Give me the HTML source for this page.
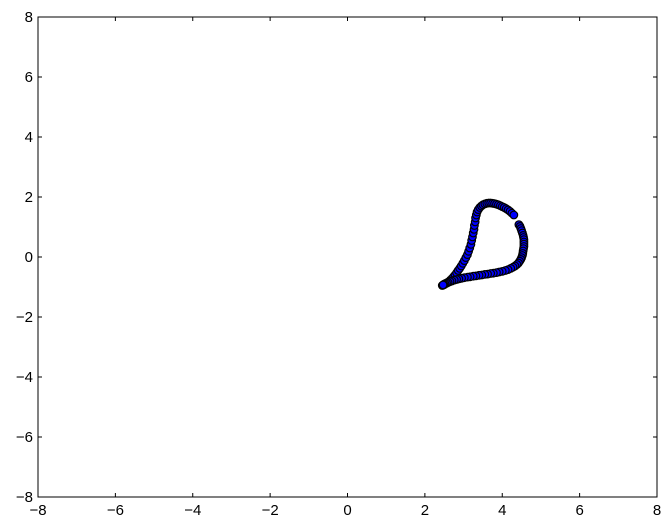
<!DOCTYPE html>
<html><head><meta charset="utf-8"><style>
html,body{margin:0;padding:0;background:#fff;}
svg{display:block;font-family:"Liberation Sans","DejaVu Sans",sans-serif;}
</style></head><body>
<svg id="chart" width="671" height="528"></svg>
<script>
const xTicks=[-8,-6,-4,-2,0,2,4,6,8];
const yTicks=[-8,-6,-4,-2,0,2,4,6,8];
const xs=[2.45,2.47,2.5,2.52,2.55,2.58,2.62,2.66,2.7,2.74,2.78,2.82,2.86,2.9,2.94,2.98,3.02,3.06,3.1,3.13,3.16,3.19,3.21,3.23,3.25,3.27,3.28,3.3,3.31,3.33,3.35,3.38,3.42,3.46,3.5,3.55,3.6,3.65,3.7,3.75,3.8,3.85,3.9,3.95,4.0,4.05,4.1,4.15,4.2,4.25,4.3,
4.43,4.46,4.48,4.5,4.52,4.54,4.55,4.56,4.56,4.56,4.56,4.55,4.54,4.53,4.52,4.5,4.48,4.45,4.42,4.38,4.33,4.28,4.22,4.15,4.08,4.0,3.92,3.85,3.77,3.7,3.62,3.55,3.47,3.4,3.32,3.25,3.17,3.1,3.02,2.95,2.88,2.82,2.76,2.7,2.65,2.6,2.56,2.52,2.49,2.47];
const ys=[-0.95,-0.94,-0.92,-0.9,-0.88,-0.85,-0.82,-0.77,-0.72,-0.66,-0.6,-0.53,-0.45,-0.38,-0.3,-0.21,-0.12,-0.02,0.08,0.19,0.3,0.42,0.55,0.67,0.8,0.92,1.05,1.17,1.3,1.4,1.5,1.58,1.65,1.7,1.74,1.77,1.79,1.8,1.8,1.79,1.78,1.76,1.74,1.71,1.68,1.65,1.61,1.57,1.52,1.46,1.4,
1.08,1.02,0.95,0.88,0.8,0.72,0.65,0.58,0.5,0.43,0.35,0.28,0.2,0.12,0.05,-0.02,-0.08,-0.14,-0.2,-0.25,-0.3,-0.34,-0.38,-0.42,-0.45,-0.48,-0.5,-0.52,-0.54,-0.55,-0.57,-0.58,-0.6,-0.61,-0.63,-0.64,-0.66,-0.67,-0.69,-0.71,-0.73,-0.75,-0.77,-0.8,-0.82,-0.85,-0.87,-0.89,-0.91,-0.93,-0.94];
const L=38,R=657,T=17,B=497;
const sx=v=>L+(v+8)/16*(R-L);
const sy=v=>B-(v+8)/16*(B-T);
const NS="http://www.w3.org/2000/svg";
const svg=document.getElementById('chart');
function mk(tag,attrs){const e=document.createElementNS(NS,tag);for(const k in attrs)e.setAttribute(k,attrs[k]);svg.appendChild(e);return e;}
const fr=mk('rect',{x:L,y:T,width:R-L,height:B-T,fill:'#fff',stroke:'#000','stroke-width':1});


for(let i=0;i<xs.length;i++){
  const c=mk('circle',{cx:sx(xs[i]),cy:sy(ys[i]),r:3.8,fill:'#0000ff',stroke:'#000','stroke-width':1.2});
  
  
}
const fmt=v=>v<0?'\u2212'+Math.abs(v):''+v;
xTicks.forEach(v=>{
  const x=sx(v);
  mk('line',{x1:x,y1:B,x2:x,y2:B-4,stroke:'#000'});
  mk('line',{x1:x,y1:T,x2:x,y2:T+4,stroke:'#000'});
  const t=mk('text',{x:x,y:B+18,'text-anchor':'middle','font-size':15});
  t.textContent=fmt(v);
  
  
});
yTicks.forEach(v=>{
  const y=sy(v);
  mk('line',{x1:L,y1:y,x2:L+4,y2:y,stroke:'#000'});
  mk('line',{x1:R,y1:y,x2:R-4,y2:y,stroke:'#000'});
  const t=mk('text',{x:L-5,y:y+5,'text-anchor':'end','font-size':15});
  t.textContent=fmt(v);
  
  
});
</script>
</body></html>
